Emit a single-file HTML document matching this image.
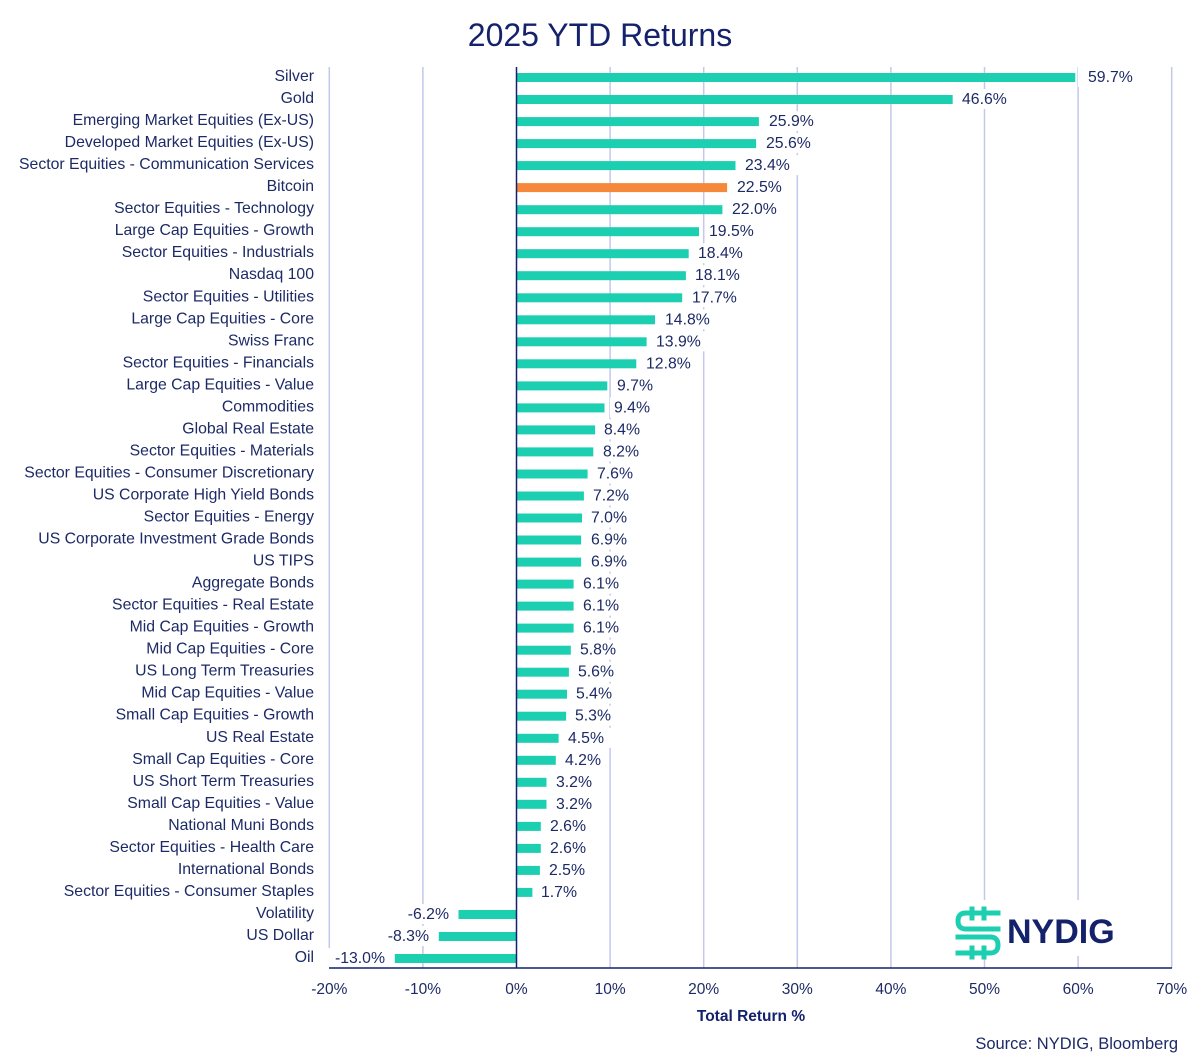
<!DOCTYPE html>
<html><head><meta charset="utf-8"><style>
body{margin:0;background:#fff;}
svg{display:block;font-family:"Liberation Sans",sans-serif;}
.l{font-size:15.8px;fill:#1d2a66;text-anchor:end;}
.v{font-size:15.8px;fill:#1d2a66;}
.t{font-size:15.5px;fill:#1d2a66;text-anchor:middle;}
.b{fill:#1ccfb0;}
</style></head><body>
<svg width="1200" height="1062" viewBox="0 0 1200 1062">
<text x="600" y="46" text-anchor="middle" font-size="32" fill="#14216b">2025 YTD Returns</text>
<g stroke="#c4c8ea" stroke-width="1.5">
<line x1="329.3" y1="67" x2="329.3" y2="968"/><line x1="422.9" y1="67" x2="422.9" y2="968"/>
<line x1="610.1" y1="67" x2="610.1" y2="968"/><line x1="703.7" y1="67" x2="703.7" y2="968"/>
<line x1="797.3" y1="67" x2="797.3" y2="968"/><line x1="890.9" y1="67" x2="890.9" y2="968"/>
<line x1="984.5" y1="67" x2="984.5" y2="968"/><line x1="1078.1" y1="67" x2="1078.1" y2="968"/>
<line x1="1171.7" y1="67" x2="1171.7" y2="968"/>
</g>
<g>
<g transform="translate(0,76)"><text class="l" x="314" y="5">Silver</text><rect class="b" x="516.5" y="-3" width="558.8" height="9"/><rect x="1078" y="-9" width="58" height="20" fill="#fff"/><text class="v" x="1088" y="6">59.7%</text></g>
<g transform="translate(0,98)"><text class="l" x="314" y="5">Gold</text><rect class="b" x="516.5" y="-3" width="436.2" height="9"/><rect x="958" y="-9" width="58" height="20" fill="#fff"/><text class="v" x="962" y="6">46.6%</text></g>
<g transform="translate(0,120.1)"><text class="l" x="314" y="5">Emerging Market Equities (Ex-US)</text><rect class="b" x="516.5" y="-3" width="242.4" height="9"/><rect x="765" y="-9" width="58" height="20" fill="#fff"/><text class="v" x="769" y="6">25.9%</text></g>
<g transform="translate(0,142.1)"><text class="l" x="314" y="5">Developed Market Equities (Ex-US)</text><rect class="b" x="516.5" y="-3" width="239.6" height="9"/><rect x="762" y="-9" width="58" height="20" fill="#fff"/><text class="v" x="766" y="6">25.6%</text></g>
<g transform="translate(0,164.1)"><text class="l" x="314" y="5">Sector Equities - Communication Services</text><rect class="b" x="516.5" y="-3" width="219" height="9"/><rect x="741" y="-9" width="58" height="20" fill="#fff"/><text class="v" x="745" y="6">23.4%</text></g>
<g transform="translate(0,186.1)"><text class="l" x="314" y="5">Bitcoin</text><rect x="516.5" y="-3" width="210.6" height="9" fill="#f5883a"/><rect x="733" y="-9" width="58" height="20" fill="#fff"/><text class="v" x="737" y="6">22.5%</text></g>
<g transform="translate(0,208.2)"><text class="l" x="314" y="5">Sector Equities - Technology</text><rect class="b" x="516.5" y="-3" width="205.9" height="9"/><rect x="728" y="-9" width="58" height="20" fill="#fff"/><text class="v" x="732" y="6">22.0%</text></g>
<g transform="translate(0,230.2)"><text class="l" x="314" y="5">Large Cap Equities - Growth</text><rect class="b" x="516.5" y="-3" width="182.5" height="9"/><rect x="705" y="-9" width="58" height="20" fill="#fff"/><text class="v" x="709" y="6">19.5%</text></g>
<g transform="translate(0,252.2)"><text class="l" x="314" y="5">Sector Equities - Industrials</text><rect class="b" x="516.5" y="-3" width="172.2" height="9"/><rect x="694" y="-9" width="58" height="20" fill="#fff"/><text class="v" x="698" y="6">18.4%</text></g>
<g transform="translate(0,274.2)"><text class="l" x="314" y="5">Nasdaq 100</text><rect class="b" x="516.5" y="-3" width="169.4" height="9"/><rect x="691" y="-9" width="58" height="20" fill="#fff"/><text class="v" x="695" y="6">18.1%</text></g>
<g transform="translate(0,296.3)"><text class="l" x="314" y="5">Sector Equities - Utilities</text><rect class="b" x="516.5" y="-3" width="165.7" height="9"/><rect x="688" y="-9" width="58" height="20" fill="#fff"/><text class="v" x="692" y="6">17.7%</text></g>
<g transform="translate(0,318.3)"><text class="l" x="314" y="5">Large Cap Equities - Core</text><rect class="b" x="516.5" y="-3" width="138.5" height="9"/><rect x="661" y="-9" width="58" height="20" fill="#fff"/><text class="v" x="665" y="6">14.8%</text></g>
<g transform="translate(0,340.3)"><text class="l" x="314" y="5">Swiss Franc</text><rect class="b" x="516.5" y="-3" width="130.1" height="9"/><rect x="652" y="-9" width="58" height="20" fill="#fff"/><text class="v" x="656" y="6">13.9%</text></g>
<g transform="translate(0,362.3)"><text class="l" x="314" y="5">Sector Equities - Financials</text><rect class="b" x="516.5" y="-3" width="119.8" height="9"/><rect x="642" y="-9" width="58" height="20" fill="#fff"/><text class="v" x="646" y="6">12.8%</text></g>
<g transform="translate(0,384.4)"><text class="l" x="314" y="5">Large Cap Equities - Value</text><rect class="b" x="516.5" y="-3" width="90.8" height="9"/><rect x="613" y="-9" width="48" height="20" fill="#fff"/><text class="v" x="617" y="6">9.7%</text></g>
<g transform="translate(0,406.4)"><text class="l" x="314" y="5">Commodities</text><rect class="b" x="516.5" y="-3" width="88" height="9"/><rect x="610" y="-9" width="48" height="20" fill="#fff"/><text class="v" x="614" y="6">9.4%</text></g>
<g transform="translate(0,428.4)"><text class="l" x="314" y="5">Global Real Estate</text><rect class="b" x="516.5" y="-3" width="78.6" height="9"/><rect x="600" y="-9" width="48" height="20" fill="#fff"/><text class="v" x="604" y="6">8.4%</text></g>
<g transform="translate(0,450.4)"><text class="l" x="314" y="5">Sector Equities - Materials</text><rect class="b" x="516.5" y="-3" width="76.8" height="9"/><rect x="599" y="-9" width="48" height="20" fill="#fff"/><text class="v" x="603" y="6">8.2%</text></g>
<g transform="translate(0,472.5)"><text class="l" x="314" y="5">Sector Equities - Consumer Discretionary</text><rect class="b" x="516.5" y="-3" width="71.1" height="9"/><rect x="593" y="-9" width="48" height="20" fill="#fff"/><text class="v" x="597" y="6">7.6%</text></g>
<g transform="translate(0,494.5)"><text class="l" x="314" y="5">US Corporate High Yield Bonds</text><rect class="b" x="516.5" y="-3" width="67.4" height="9"/><rect x="589" y="-9" width="48" height="20" fill="#fff"/><text class="v" x="593" y="6">7.2%</text></g>
<g transform="translate(0,516.5)"><text class="l" x="314" y="5">Sector Equities - Energy</text><rect class="b" x="516.5" y="-3" width="65.5" height="9"/><rect x="587" y="-9" width="48" height="20" fill="#fff"/><text class="v" x="591" y="6">7.0%</text></g>
<g transform="translate(0,538.5)"><text class="l" x="314" y="5">US Corporate Investment Grade Bonds</text><rect class="b" x="516.5" y="-3" width="64.6" height="9"/><rect x="587" y="-9" width="48" height="20" fill="#fff"/><text class="v" x="591" y="6">6.9%</text></g>
<g transform="translate(0,560.6)"><text class="l" x="314" y="5">US TIPS</text><rect class="b" x="516.5" y="-3" width="64.6" height="9"/><rect x="587" y="-9" width="48" height="20" fill="#fff"/><text class="v" x="591" y="6">6.9%</text></g>
<g transform="translate(0,582.6)"><text class="l" x="314" y="5">Aggregate Bonds</text><rect class="b" x="516.5" y="-3" width="57.1" height="9"/><rect x="579" y="-9" width="48" height="20" fill="#fff"/><text class="v" x="583" y="6">6.1%</text></g>
<g transform="translate(0,604.6)"><text class="l" x="314" y="5">Sector Equities - Real Estate</text><rect class="b" x="516.5" y="-3" width="57.1" height="9"/><rect x="579" y="-9" width="48" height="20" fill="#fff"/><text class="v" x="583" y="6">6.1%</text></g>
<g transform="translate(0,626.6)"><text class="l" x="314" y="5">Mid Cap Equities - Growth</text><rect class="b" x="516.5" y="-3" width="57.1" height="9"/><rect x="579" y="-9" width="48" height="20" fill="#fff"/><text class="v" x="583" y="6">6.1%</text></g>
<g transform="translate(0,648.7)"><text class="l" x="314" y="5">Mid Cap Equities - Core</text><rect class="b" x="516.5" y="-3" width="54.3" height="9"/><rect x="576" y="-9" width="48" height="20" fill="#fff"/><text class="v" x="580" y="6">5.8%</text></g>
<g transform="translate(0,670.7)"><text class="l" x="314" y="5">US Long Term Treasuries</text><rect class="b" x="516.5" y="-3" width="52.4" height="9"/><rect x="574" y="-9" width="48" height="20" fill="#fff"/><text class="v" x="578" y="6">5.6%</text></g>
<g transform="translate(0,692.7)"><text class="l" x="314" y="5">Mid Cap Equities - Value</text><rect class="b" x="516.5" y="-3" width="50.5" height="9"/><rect x="572" y="-9" width="48" height="20" fill="#fff"/><text class="v" x="576" y="6">5.4%</text></g>
<g transform="translate(0,714.7)"><text class="l" x="314" y="5">Small Cap Equities - Growth</text><rect class="b" x="516.5" y="-3" width="49.6" height="9"/><rect x="571" y="-9" width="48" height="20" fill="#fff"/><text class="v" x="575" y="6">5.3%</text></g>
<g transform="translate(0,736.8)"><text class="l" x="314" y="5">US Real Estate</text><rect class="b" x="516.5" y="-3" width="42.1" height="9"/><rect x="564" y="-9" width="48" height="20" fill="#fff"/><text class="v" x="568" y="6">4.5%</text></g>
<g transform="translate(0,758.8)"><text class="l" x="314" y="5">Small Cap Equities - Core</text><rect class="b" x="516.5" y="-3" width="39.3" height="9"/><rect x="561" y="-9" width="46" height="20" fill="#fff"/><text class="v" x="565" y="6">4.2%</text></g>
<g transform="translate(0,780.8)"><text class="l" x="314" y="5">US Short Term Treasuries</text><rect class="b" x="516.5" y="-3" width="30" height="9"/><rect x="552" y="-9" width="48" height="20" fill="#fff"/><text class="v" x="556" y="6">3.2%</text></g>
<g transform="translate(0,802.8)"><text class="l" x="314" y="5">Small Cap Equities - Value</text><rect class="b" x="516.5" y="-3" width="30" height="9"/><rect x="552" y="-9" width="48" height="20" fill="#fff"/><text class="v" x="556" y="6">3.2%</text></g>
<g transform="translate(0,824.9)"><text class="l" x="314" y="5">National Muni Bonds</text><rect class="b" x="516.5" y="-3" width="24.3" height="9"/><rect x="546" y="-9" width="48" height="20" fill="#fff"/><text class="v" x="550" y="6">2.6%</text></g>
<g transform="translate(0,846.9)"><text class="l" x="314" y="5">Sector Equities - Health Care</text><rect class="b" x="516.5" y="-3" width="24.3" height="9"/><rect x="546" y="-9" width="48" height="20" fill="#fff"/><text class="v" x="550" y="6">2.6%</text></g>
<g transform="translate(0,868.9)"><text class="l" x="314" y="5">International Bonds</text><rect class="b" x="516.5" y="-3" width="23.4" height="9"/><rect x="545" y="-9" width="48" height="20" fill="#fff"/><text class="v" x="549" y="6">2.5%</text></g>
<g transform="translate(0,890.9)"><text class="l" x="314" y="5">Sector Equities - Consumer Staples</text><rect class="b" x="516.5" y="-3" width="15.9" height="9"/><rect x="537" y="-9" width="48" height="20" fill="#fff"/><text class="v" x="541" y="6">1.7%</text></g>
<g transform="translate(0,913)"><text class="l" x="314" y="5">Volatility</text><rect class="b" x="458.5" y="-3" width="58" height="9"/><rect x="400" y="-9" width="52" height="20" fill="#fff"/><text class="v" x="449" y="6" text-anchor="end">-6.2%</text></g>
<g transform="translate(0,935)"><text class="l" x="314" y="5">US Dollar</text><rect class="b" x="438.8" y="-3" width="77.7" height="9"/><rect x="380" y="-9" width="52" height="20" fill="#fff"/><text class="v" x="429" y="6" text-anchor="end">-8.3%</text></g>
<g transform="translate(0,957)"><text class="l" x="314" y="5">Oil</text><rect class="b" x="394.8" y="-3" width="121.7" height="9"/><rect x="328" y="-9" width="60" height="20" fill="#fff"/><text class="v" x="385" y="6" text-anchor="end">-13.0%</text></g>
</g>
<line x1="516.5" y1="67" x2="516.5" y2="968" stroke="#14216b" stroke-width="1.5"/>
<line x1="329" y1="968" x2="1172" y2="968" stroke="#14216b" stroke-width="1.5"/>
<g>
<text class="t" x="329.3" y="994">-20%</text><text class="t" x="422.9" y="994">-10%</text>
<text class="t" x="516.5" y="994">0%</text><text class="t" x="610.1" y="994">10%</text>
<text class="t" x="703.7" y="994">20%</text><text class="t" x="797.3" y="994">30%</text>
<text class="t" x="890.9" y="994">40%</text><text class="t" x="984.5" y="994">50%</text>
<text class="t" x="1078.1" y="994">60%</text><text class="t" x="1171.7" y="994">70%</text>
</g>
<text x="751" y="1021" text-anchor="middle" font-size="15.5" font-weight="bold" fill="#14216b">Total Return %</text>
<text x="1178" y="1049" text-anchor="end" font-size="16.5" fill="#1d2a66">Source: NYDIG, Bloomberg</text>
<rect x="944" y="900" width="190" height="56" fill="#fff"/>
<g fill="none" stroke="#1ccfb0" stroke-width="5" stroke-linecap="square">
<path d="M998 913 H966 Q958 913 958 921 Q958 929 966 929 H998"/>
<path d="M958 937 H990 Q998 937 998 945 Q998 953 990 953 H958"/>
<line x1="972" y1="909" x2="972" y2="918"/><line x1="984" y1="909" x2="984" y2="918"/>
<line x1="972" y1="948" x2="972" y2="957"/><line x1="984" y1="948" x2="984" y2="957"/>
</g>
<text x="1007" y="943" font-size="34" font-weight="bold" fill="#14216b">NYDIG</text>
</svg>
</body></html>
